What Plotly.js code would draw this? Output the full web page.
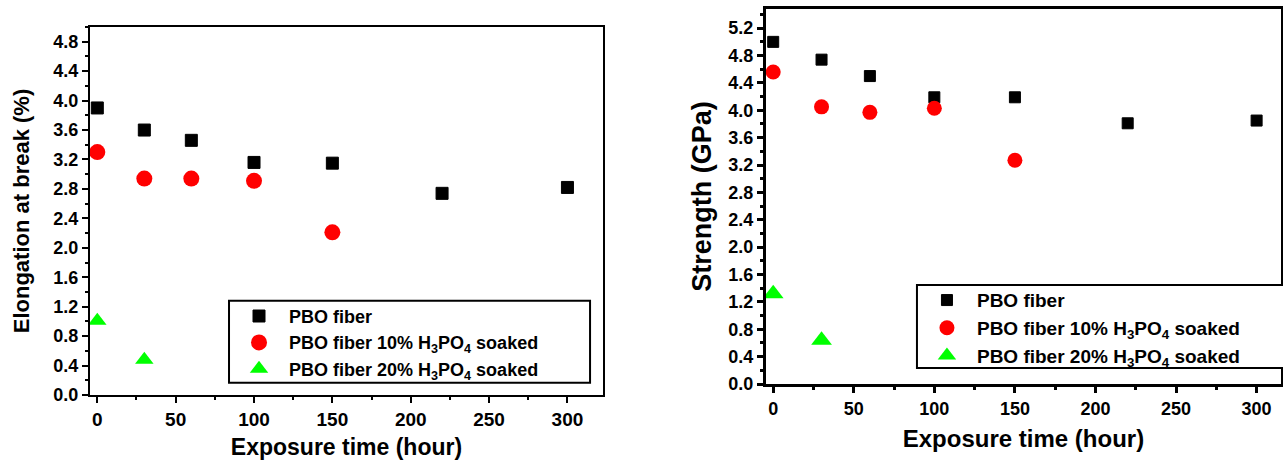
<!DOCTYPE html>
<html>
<head>
<meta charset="utf-8">
<script src="https://cdn.plot.ly/plotly-3.0.1.min.js"></script>
<style>
  html, body { margin: 0; padding: 0; background: #fff; }
  #chart { width: 1283px; height: 460px; }
</style>
</head>
<body>
<div id="chart"></div>
<script>
// ---- data ----
var timePBO = [0, 30, 60, 100, 150, 220, 300];
var time10 = [0, 30, 60, 100, 150];
var time20 = [0, 30];

var elongPBO = [3.90, 3.60, 3.46, 3.16, 3.15, 2.74, 2.82];
var elong10 = [3.30, 2.94, 2.94, 2.91, 2.21];
var elong20 = [1.01, 0.48];

var strengthPBO = [5.00, 4.74, 4.50, 4.19, 4.19, 3.81, 3.85];
var strength10 = [4.56, 4.05, 3.97, 4.03, 3.27];
var strength20 = [1.32, 0.64];

var seriesNames = [
  'PBO fiber',
  'PBO fiber 10% H<sub>3</sub>PO<sub>4</sub> soaked',
  'PBO fiber 20% H<sub>3</sub>PO<sub>4</sub> soaked'
];
var xTitle = 'Exposure time (hour)';
var yTitleLeft = 'Elongation at break (%)';
var yTitleRight = 'Strength (GPa)';

var FONT = 'Liberation Sans, Arial, sans-serif';
var TICK_SIZES = {xtick: 19, ytick: 18, x2tick: 18, y2tick: 18};

function tf(size) { return {family: FONT, size: size, color: '#000', weight: 'bold'}; }

var traces = [
  {x: timePBO, y: elongPBO, type: 'scatter', mode: 'markers', name: seriesNames[0],
   marker: {symbol: 'square', size: 12, color: '#000000', line: {color: '#000000', width: 1}},
   xaxis: 'x', yaxis: 'y', legend: 'legend'},
  {x: time10, y: elong10, type: 'scatter', mode: 'markers', name: seriesNames[1],
   marker: {symbol: 'circle', size: 16, color: '#ff0000', line: {width: 0}},
   xaxis: 'x', yaxis: 'y', legend: 'legend'},
  {x: time20, y: elong20, type: 'scatter', mode: 'markers', name: seriesNames[2],
   marker: {symbol: 'triangle-up', size: 16, color: '#00ff00', line: {width: 0}},
   xaxis: 'x', yaxis: 'y', legend: 'legend'},
  {x: timePBO, y: strengthPBO, type: 'scatter', mode: 'markers', name: seriesNames[0],
   marker: {symbol: 'square', size: 11, color: '#000000', line: {color: '#000000', width: 1}},
   xaxis: 'x2', yaxis: 'y2', legend: 'legend2'},
  {x: time10, y: strength10, type: 'scatter', mode: 'markers', name: seriesNames[1],
   marker: {symbol: 'circle', size: 15, color: '#ff0000', line: {width: 0}},
   xaxis: 'x2', yaxis: 'y2', legend: 'legend2'},
  {x: time20, y: strength20, type: 'scatter', mode: 'markers', name: seriesNames[2],
   marker: {symbol: 'triangle-up', size: 18, color: '#00ff00', line: {width: 0}},
   xaxis: 'x2', yaxis: 'y2', legend: 'legend2'}
];

var layout = {
  width: 1283, height: 460,
  margin: {l: 0, r: 0, t: 0, b: 0, autoexpand: false},
  paper_bgcolor: '#ffffff', plot_bgcolor: '#ffffff',
  showlegend: true,
  xaxis: {
    domain: [0.0701, 0.4700], range: [-4.7, 322.7], anchor: 'y',
    showline: true, linecolor: '#000', linewidth: 2, mirror: true,
    showgrid: false, zeroline: false,
    ticks: 'outside', ticklen: 6, tickwidth: 2, tickcolor: '#000',
    tick0: 0, dtick: 50,
    tickfont: tf(TICK_SIZES.xtick),
    minor: {ticks: 'outside', ticklen: 3, tickwidth: 2, tickcolor: '#000', dtick: 25, tick0: 0},
    title: {text: xTitle, font: tf(23), standoff: 14}
  },
  yaxis: {
    domain: [0.1413, 0.9413], range: [0, 5.0], anchor: 'x',
    showline: true, linecolor: '#000', linewidth: 2, mirror: true,
    showgrid: false, zeroline: false,
    ticks: 'outside', ticklen: 6, tickwidth: 2, tickcolor: '#000',
    tick0: 0, dtick: 0.4, tickformat: '.1f',
    tickfont: tf(TICK_SIZES.ytick),
    minor: {ticks: 'outside', ticklen: 3, tickwidth: 2, tickcolor: '#000', dtick: 0.2, tick0: 0},
    title: {text: yTitleLeft, font: tf(22), standoff: 18}
  },
  xaxis2: {
    domain: [0.5970, 0.9984], range: [-4.5, 315.1], anchor: 'y2',
    showline: true, linecolor: '#000', linewidth: 3, mirror: true,
    showgrid: false, zeroline: false,
    ticks: 'outside', ticklen: 6, tickwidth: 3, tickcolor: '#000',
    tick0: 0, dtick: 50,
    tickfont: tf(TICK_SIZES.x2tick),
    minor: {ticks: 'outside', ticklen: 3, tickwidth: 3, tickcolor: '#000', dtick: 25, tick0: 0},
    title: {text: xTitle, font: tf(24), standoff: 13}
  },
  yaxis2: {
    domain: [0.1652, 0.9804], range: [0, 5.48], anchor: 'x2',
    showline: true, linecolor: '#000', linewidth: 3, mirror: true,
    showgrid: false, zeroline: false,
    ticks: 'outside', ticklen: 6, tickwidth: 3, tickcolor: '#000',
    tick0: 0, dtick: 0.4, tickformat: '.1f',
    tickfont: tf(TICK_SIZES.y2tick),
    minor: {ticks: 'outside', ticklen: 3, tickwidth: 3, tickcolor: '#000', dtick: 0.2, tick0: 0},
    title: {text: yTitleRight, font: tf(27), standoff: 9}
  },
  legend: {
    x: 0.1785, y: 0.3526, xref: 'paper', yref: 'paper', xanchor: 'left', yanchor: 'top',
    orientation: 'v', bgcolor: 'rgba(0,0,0,0)', borderwidth: 0,
    itemwidth: 50, tracegroupgap: 0,
    font: tf(18)
  },
  legend2: {
    x: 0.7147, y: 0.3887, xref: 'paper', yref: 'paper', xanchor: 'left', yanchor: 'top',
    orientation: 'v', bgcolor: 'rgba(0,0,0,0)', borderwidth: 0,
    itemwidth: 50, tracegroupgap: 0,
    font: tf(19)
  },
  shapes: [
    {type: 'rect', xref: 'paper', yref: 'paper', x0: 0.1785, x1: 0.4599, y0: 0.168, y1: 0.3463,
     line: {color: '#000', width: 2}, fillcolor: '#ffffff', layer: 'above'},
    {type: 'rect', xref: 'paper', yref: 'paper', x0: 0.7147, x1: 1.003, y0: 0.200, y1: 0.3804,
     line: {color: '#000', width: 2}, fillcolor: '#ffffff', layer: 'above'}
  ]
};

// make sure tick labels carry the bold face and intended size
function enforceTickFonts() {
  Object.keys(TICK_SIZES).forEach(function (cls) {
    var nodes = document.querySelectorAll('g.' + cls + ' text');
    for (var i = 0; i < nodes.length; i++) {
      nodes[i].style.fontFamily = '"Liberation Sans", Arial, sans-serif';
      nodes[i].style.fontWeight = 'bold';
      nodes[i].style.fontSize = TICK_SIZES[cls] + 'px';
      nodes[i].style.fill = '#000';
    }
  });
}

Plotly.newPlot('chart', traces, layout, {displayModeBar: false, staticPlot: true}).then(function (gd) {
  enforceTickFonts();
  gd.on('plotly_afterplot', enforceTickFonts);
});
</script>
</body>
</html>
